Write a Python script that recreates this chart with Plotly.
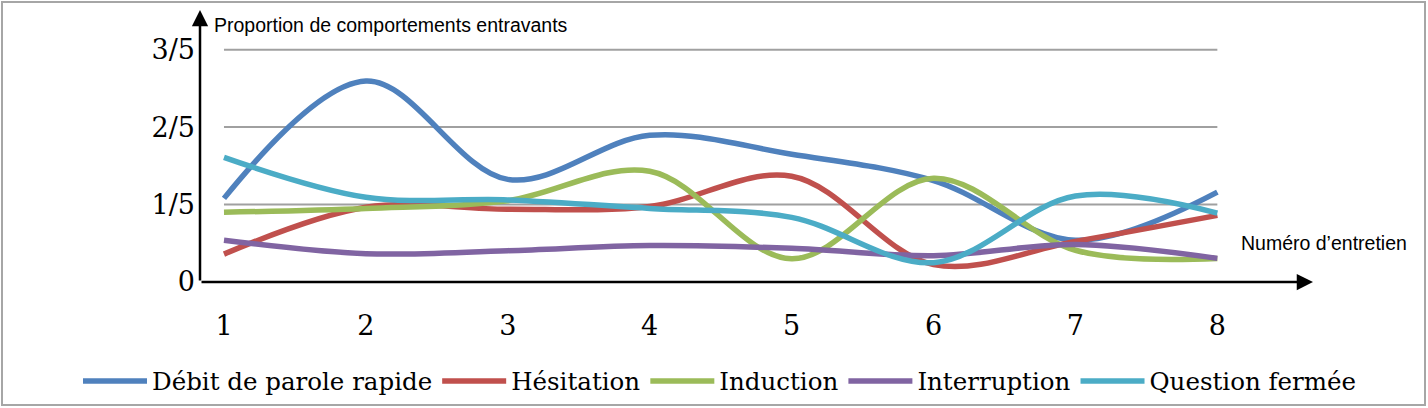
import plotly.graph_objects as go

# ---- data ----
interviews = [1, 2, 3, 4, 5, 6, 7, 8]
x_labels = ["1", "2", "3", "4", "5", "6", "7", "8"]
y_tickvals = [0, 0.2, 0.4, 0.6]
y_ticktext = ["0", "1/5", "2/5", "3/5"]

debit = [0.216, 0.519, 0.265, 0.379, 0.330, 0.262, 0.108, 0.232]
hesitation = [0.072, 0.193, 0.188, 0.195, 0.273, 0.045, 0.105, 0.172]
induction = [0.180, 0.190, 0.210, 0.286, 0.060, 0.268, 0.082, 0.061]
interruption = [0.108, 0.073, 0.081, 0.094, 0.087, 0.068, 0.097, 0.061]
question = [0.322, 0.219, 0.212, 0.190, 0.167, 0.050, 0.222, 0.178]

series_names = ["Débit de parole rapide", "Hésitation", "Induction",
                "Interruption", "Question fermée"]
series_values = [debit, hesitation, induction, interruption, question]
colors = ["#4F81BD", "#C0504D", "#9BBB59", "#8064A2", "#4BACC6"]

y_title = "Proportion de comportements entravants"
x_title = "Numéro d’entretien"

# ---- layout constants ----
W, H = 1428, 408
ML, MR, MT, MB = 200, 115, 10, 126
XR = [0.831, 8.674]
YR = [0, 0.7025]
PW = W - ML - MR
PH = H - MT - MB


def px_to_paper_x(px):
    return (px - ML) / PW


def px_to_paper_y(py):
    return (H - MB - py) / PH


fig = go.Figure()
for name, vals, col in zip(series_names, series_values, colors):
    fig.add_trace(go.Scatter(
        x=interviews, y=vals, name=name, mode="lines",
        line=dict(color=col, width=5.5, shape="spline", smoothing=1.0),
        hoverinfo="x+y+name",
    ))

shapes = []
# horizontal gridlines between first and last category
for v in y_tickvals[1:]:
    shapes.append(dict(type="line", xref="x", yref="y",
                       x0=interviews[0], x1=interviews[-1], y0=v, y1=v,
                       line=dict(color="#A0A0A0", width=2), layer="below"))
# outer border
shapes.append(dict(type="rect", xref="paper", yref="paper",
                   x0=px_to_paper_x(2), x1=px_to_paper_x(W - 3),
                   y0=px_to_paper_y(H - 3), y1=px_to_paper_y(2),
                   line=dict(color="#A6A6A6", width=2)))

annotations = [
    # x axis arrow
    dict(x=XR[1], y=0, ax=XR[0], ay=0, xref="x", yref="y", axref="x", ayref="y",
         text="", showarrow=True, arrowhead=2, arrowsize=1.3, arrowwidth=2.5,
         arrowcolor="black", standoff=0, startstandoff=0),
    # y axis arrow
    dict(x=XR[0], y=YR[1], ax=XR[0], ay=0, xref="x", yref="y", axref="x", ayref="y",
         text="", showarrow=True, arrowhead=2, arrowsize=1.3, arrowwidth=2.5,
         arrowcolor="black", standoff=0, startstandoff=0),
    dict(x=px_to_paper_x(212), y=px_to_paper_y(25), xref="paper", yref="paper",
         text=y_title, showarrow=False, xanchor="left", yanchor="middle",
         font=dict(family="Liberation Sans, Arial, sans-serif", size=19.5, color="#000")),
    dict(x=px_to_paper_x(1239), y=px_to_paper_y(243), xref="paper", yref="paper",
         text=x_title, showarrow=False, xanchor="left", yanchor="middle",
         font=dict(family="Liberation Sans, Arial, sans-serif", size=19.5, color="#000")),
]

fig.update_layout(
    width=W, height=H,
    margin=dict(l=ML, r=MR, t=MT, b=MB, pad=0, autoexpand=False),
    paper_bgcolor="white", plot_bgcolor="white",
    showlegend=True,
    legend=dict(orientation="h", x=px_to_paper_x(78), y=px_to_paper_y(381),
                xanchor="left", yanchor="middle", itemwidth=64,
                font=dict(family="DejaVu Serif, serif", size=24.5, color="#000"),
                tracegroupgap=0, bgcolor="rgba(0,0,0,0)"),
    xaxis=dict(range=XR, tickmode="array", tickvals=interviews, ticktext=x_labels,
               showgrid=False, zeroline=False, showline=False, ticks="",
               ticklabelstandoff=25,
               tickfont=dict(family="DejaVu Serif, serif", size=27, color="#000")),
    yaxis=dict(range=YR, tickmode="array", tickvals=y_tickvals, ticktext=y_ticktext,
               showgrid=False, zeroline=False, showline=False, ticks="",
               ticklabelstandoff=4,
               tickfont=dict(family="DejaVu Serif, serif", size=27, color="#000")),
    shapes=shapes,
    annotations=annotations,
)

fig.write_html("out.html", config={"displayModeBar": False},
               post_script="document.body.style.margin='0';")
